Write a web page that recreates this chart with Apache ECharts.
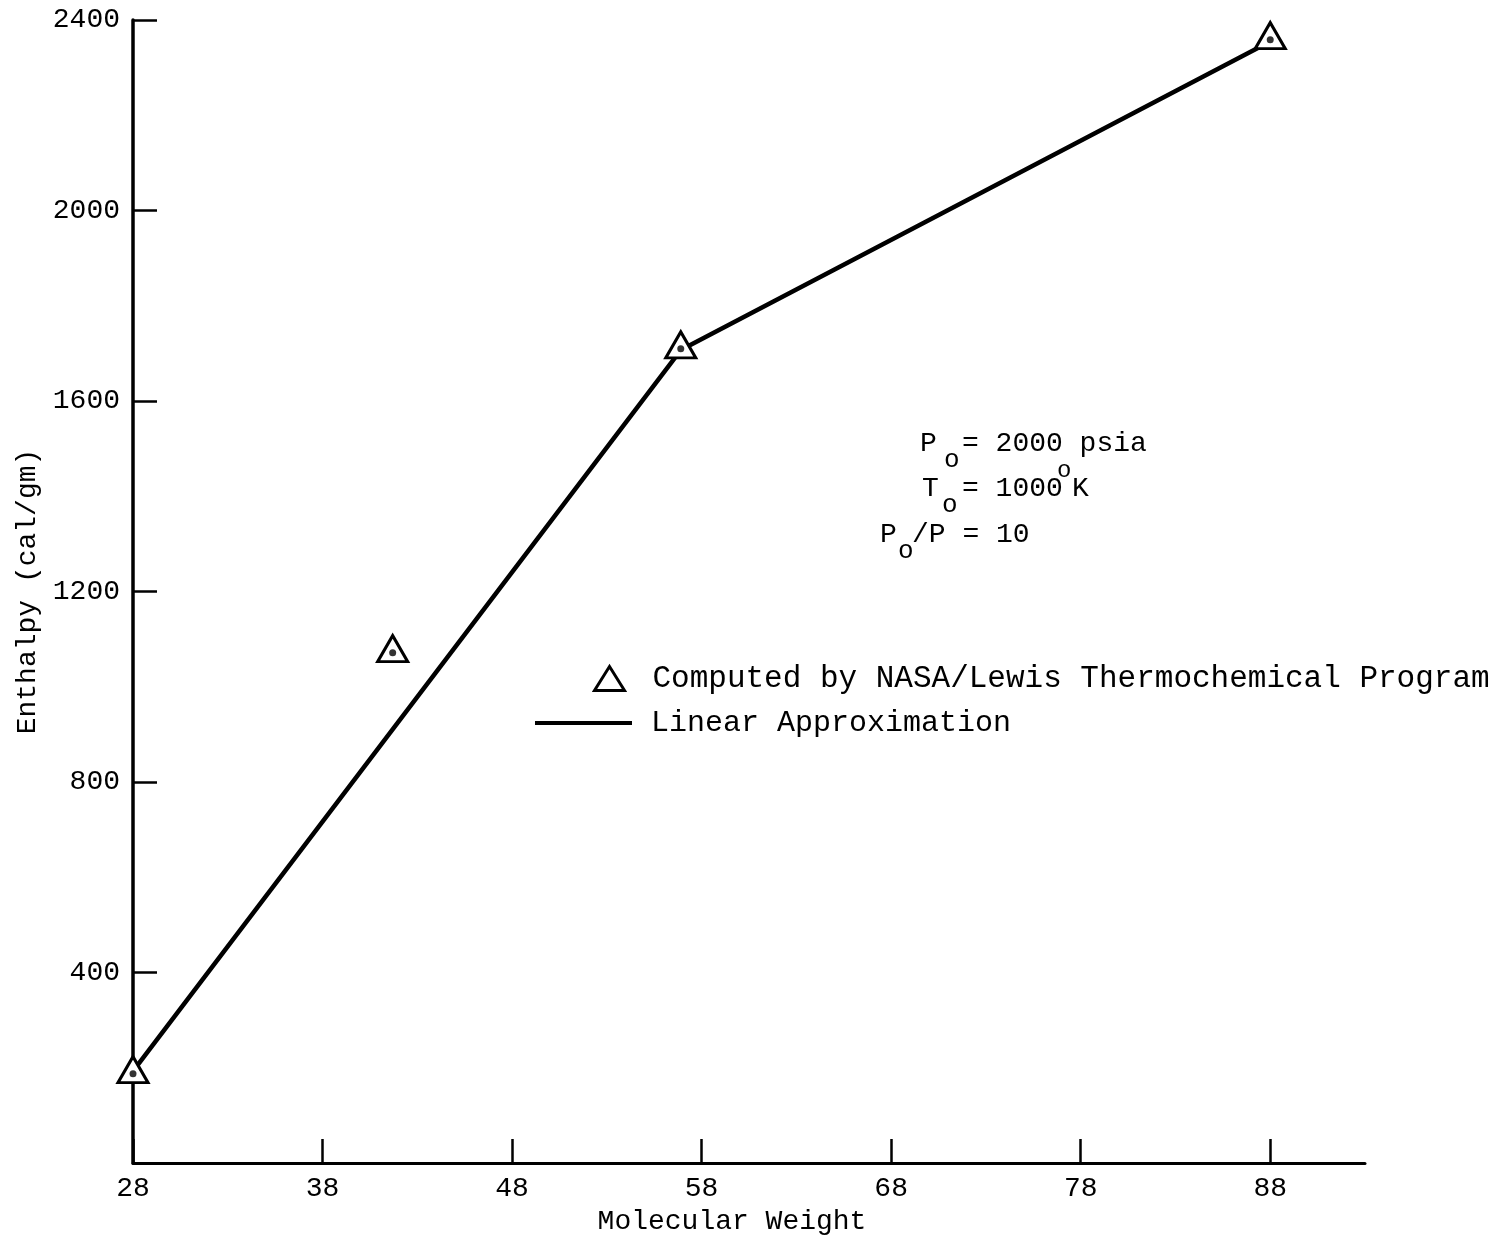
<!DOCTYPE html>
<html>
<head>
<meta charset="utf-8">
<script src="https://cdn.jsdelivr.net/npm/echarts@6/dist/echarts.min.js"></script>
<style>
  html, body { margin: 0; padding: 0; background: #fff; }
  #chart { width: 1507px; height: 1236px; }
</style>
</head>
<body>
<div id="chart"></div>
<script>
  // data
  var computedPoints = [[28, 196], [41.7, 1080], [56.9, 1718], [88, 2367]];
  var linearPoints = [[28, 193], [56.9, 1707], [88, 2355]];
  var xTicks = { min: 28, max: 93, step: 10 };
  var yTicks = { min: 0, max: 2400, step: 400 };

  var FONT = '"Liberation Mono", monospace';
  var INK = '#000';
  var chart = echarts.init(document.getElementById('chart'));

  chart.setOption({
    backgroundColor: '#fff',
    animation: false,
    grid: { left: 133, right: 142, top: 20, bottom: 73, containLabel: false, outerBoundsMode: 'none' },
    legend: [
      {
        data: ['Computed by NASA/Lewis Thermochemical Program'],
        left: 593, top: 663, padding: 0,
        icon: 'triangle',
        itemWidth: 30, itemHeight: 24,
        itemStyle: { color: '#fff', borderColor: INK, borderWidth: 3 },
        textStyle: { fontFamily: FONT, fontSize: 31, color: INK, padding: [0, 0, 0, 23] }
      },
      {
        data: ['Linear Approximation'],
        left: 535, top: 708, padding: 0,
        icon: 'rect',
        itemWidth: 97, itemHeight: 4,
        itemStyle: { color: INK, borderWidth: 0 },
        textStyle: { fontFamily: FONT, fontSize: 30, color: INK, padding: [0, 0, 0, 14] }
      }
    ],
    xAxis: {
      type: 'value',
      min: xTicks.min, max: xTicks.max, interval: xTicks.step,
      name: 'Molecular Weight',
      nameLocation: 'middle',
      nameGap: 36,
      nameTextStyle: { fontFamily: FONT, fontSize: 28, color: INK, padding: [0, 34, 0, 0] },
      axisLine: { lineStyle: { color: INK, width: 3 } },
      axisTick: { inside: true, length: 24, lineStyle: { color: INK, width: 2.5 } },
      axisLabel: { fontFamily: FONT, fontSize: 28, color: INK, margin: 12, showMaxLabel: false },
      splitLine: { show: false }
    },
    yAxis: {
      type: 'value',
      min: yTicks.min, max: yTicks.max, interval: yTicks.step,
      name: 'Enthalpy (cal/gm)',
      nameLocation: 'middle',
      nameGap: 84,
      nameTextStyle: { fontFamily: FONT, fontSize: 28, color: INK },
      axisLine: { lineStyle: { color: INK, width: 3.5 } },
      axisTick: { inside: true, length: 24, lineStyle: { color: INK, width: 2.5 } },
      axisLabel: {
        fontFamily: FONT, fontSize: 28, color: INK, margin: 13, showMinLabel: false,
        formatter: function (v) { return String(v); }
      },
      splitLine: { show: false }
    },
    series: [
      {
        name: 'Linear Approximation',
        type: 'line',
        data: linearPoints,
        symbol: 'none',
        lineStyle: { color: INK, width: 4.5 },
        itemStyle: { color: INK },
        z: 2
      },
      {
        name: 'Computed by NASA/Lewis Thermochemical Program',
        type: 'scatter',
        data: computedPoints,
        symbol: 'triangle',
        symbolSize: [30, 26],
        itemStyle: { color: '#fff', borderColor: INK, borderWidth: 3, opacity: 1 },
        z: 3
      },
      {
        // dot in the middle of every triangle
        name: 'centre',
        type: 'scatter',
        data: computedPoints,
        symbol: 'circle',
        symbolSize: 7,
        symbolOffset: [0, 4],
        itemStyle: { color: INK },
        silent: true,
        z: 4
      }
    ],
    graphic: [
      // P_o = 2000 psia
      { type: 'text', left: 920, top: 430, style: { text: 'P', font: '28px ' + FONT, fill: INK } },
      { type: 'text', left: 944, top: 447, style: { text: 'o', font: '26px ' + FONT, fill: INK } },
      { type: 'text', left: 962, top: 430, style: { text: '= 2000 psia', font: '28px ' + FONT, fill: INK } },
      // T_o = 1000°K
      { type: 'text', left: 922, top: 475, style: { text: 'T', font: '28px ' + FONT, fill: INK } },
      { type: 'text', left: 942, top: 492, style: { text: 'o', font: '26px ' + FONT, fill: INK } },
      { type: 'text', left: 962, top: 475, style: { text: '= 1000', font: '28px ' + FONT, fill: INK } },
      { type: 'text', left: 1057, top: 459, style: { text: 'o', font: '24px ' + FONT, fill: INK } },
      { type: 'text', left: 1072, top: 475, style: { text: 'K', font: '28px ' + FONT, fill: INK } },
      // P_o/P = 10
      { type: 'text', left: 880, top: 521, style: { text: 'P', font: '28px ' + FONT, fill: INK } },
      { type: 'text', left: 898, top: 538, style: { text: 'o', font: '26px ' + FONT, fill: INK } },
      { type: 'text', left: 912, top: 521, style: { text: '/P = 10', font: '28px ' + FONT, fill: INK } }
    ]
  });
</script>
</body>
</html>
